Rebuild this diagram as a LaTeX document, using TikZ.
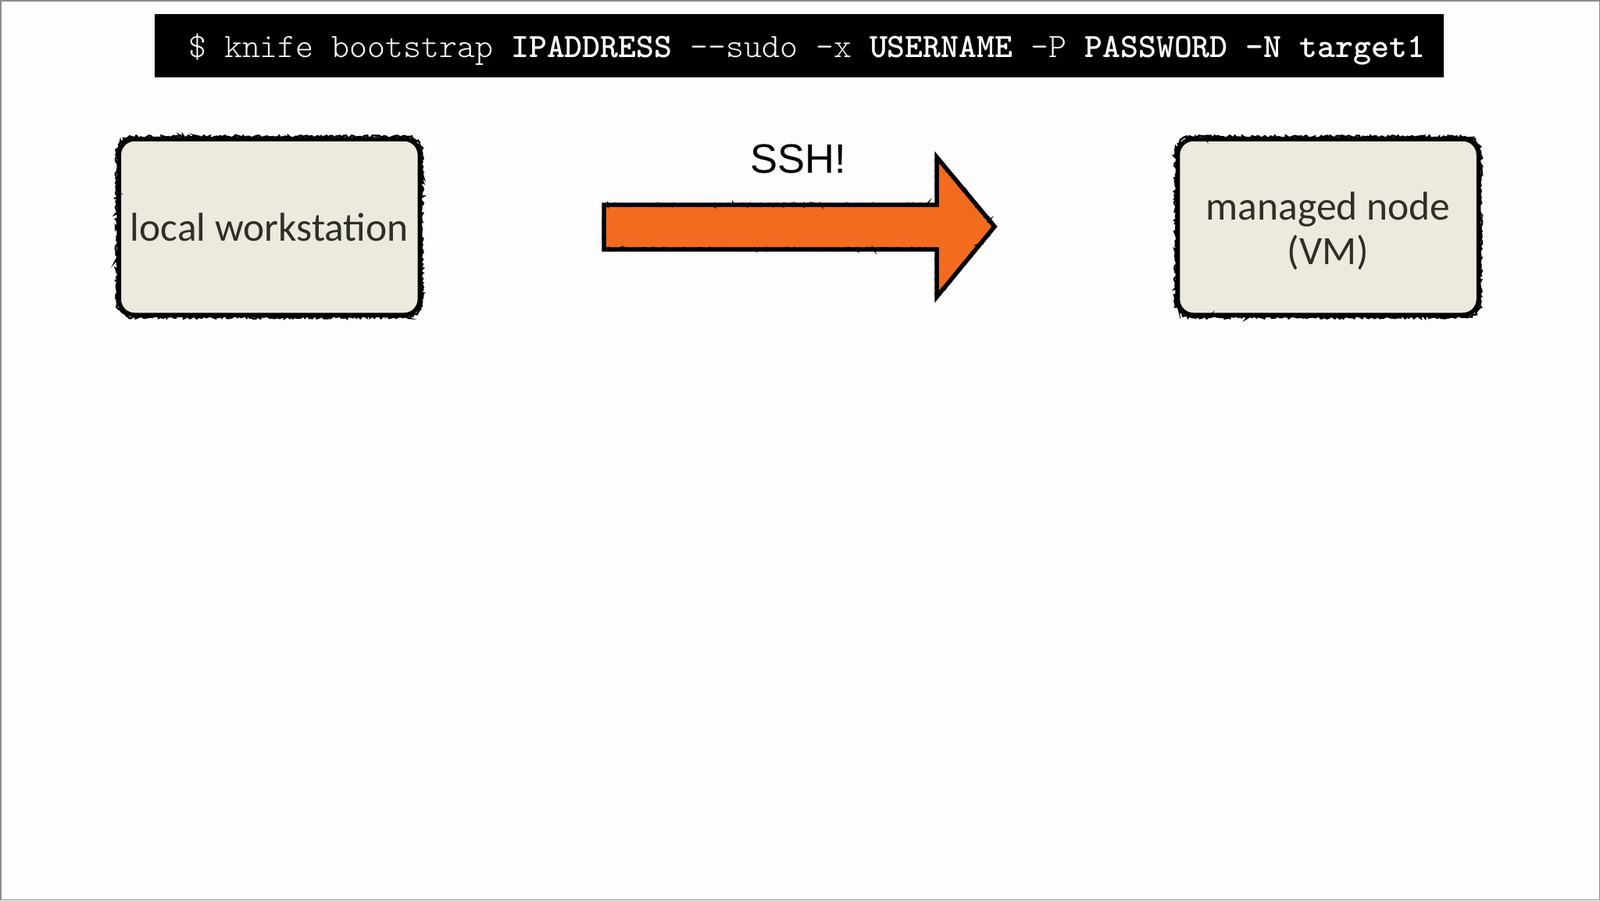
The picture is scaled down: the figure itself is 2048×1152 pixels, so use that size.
\documentclass[tikz,border=0pt]{standalone}
\usepackage{fontspec}
\setmainfont{Liberation Sans}
\newfontfamily\codefont{lmmonolt10}[Extension=.otf, UprightFont=*-regular, BoldFont=*-bold]
\newfontfamily\boxfont{Carlito}
\usetikzlibrary{decorations.pathmorphing}
\definecolor{boxfill}{HTML}{ECEADF}
\definecolor{boxtext}{HTML}{2F2E29}
\definecolor{arroworange}{HTML}{F36B1F}
\definecolor{framegray}{HTML}{8C8C8C}
\definecolor{pagebg}{HTML}{FDFDFD}
\begin{document}
\begin{tikzpicture}[x=1pt,y=-1pt,
  roughline/.style={draw=black, line width=2.4pt, decorate,
    decoration={random steps, segment length=2.2pt, amplitude=1.9pt}},
  boxstyle/.style={fill=boxfill, draw=black, line width=5.5pt, rounded corners=20pt,
    minimum width=385pt, minimum height=225pt, inner sep=0pt},
  boxlabel/.style={text=boxtext, align=center, inner sep=0pt,
    font=\boxfont\fontsize{51.5}{57}\selectfont},
  codestyle/.style={font=\codefont\fontsize{43.7}{46}\selectfont, text=white, inner sep=0pt, anchor=base west}
]
\useasboundingbox (0,0) rectangle (2048,1152);
\fill[pagebg] (0,0) rectangle (2048,1152);
\draw[framegray, line width=1.5pt] (0.75,0.75) rectangle (2047.25,1151.25);

% command bar
\fill[black] (198,18) rectangle (1848,99);
\node[codestyle] (cmd) at (241,73)
  {\$ knife bootstrap \textbf{IPADDRESS} --sudo -x \textbf{USERNAME} -P \textbf{PASSWORD} \textbf{-N target1}};

% boxes
\node[boxstyle] (lw) at (344.8,290.5) {};
\node[boxstyle] (mn) at (1700,290.5) {};
\draw[roughline] {[rounded corners=20pt] (lw.north west) rectangle (lw.south east)};
\draw[roughline] {[rounded corners=20pt] (mn.north west) rectangle (mn.south east)};
\node[boxlabel] (lwtext) at (344.8,290.5) {local workstation};
\node[boxlabel] (mntext) at (1700,296) {managed node\\(VM)};

% SSH arrow
\coordinate (a1) at (773,262);
\coordinate (a2) at (1199,262);
\coordinate (a3) at (1199,201);
\coordinate (a4) at (1273,290);
\coordinate (a5) at (1199,380);
\coordinate (a6) at (1199,319);
\coordinate (a7) at (773,319);
\filldraw[fill=arroworange, draw=black, line width=5.5pt, line join=miter]
  (a1) -- (a2) -- (a3) -- (a4) -- (a5) -- (a6) -- (a7) -- cycle;
\draw[roughline] (a1) -- (a2) -- (a3) -- (a4) -- (a5) -- (a6) -- (a7) -- cycle;
\node[font=\fontsize{52.5}{60}\selectfont, anchor=base, inner sep=0pt] (ssh) at (1022,221) {SSH!};
\end{tikzpicture}
\end{document}
